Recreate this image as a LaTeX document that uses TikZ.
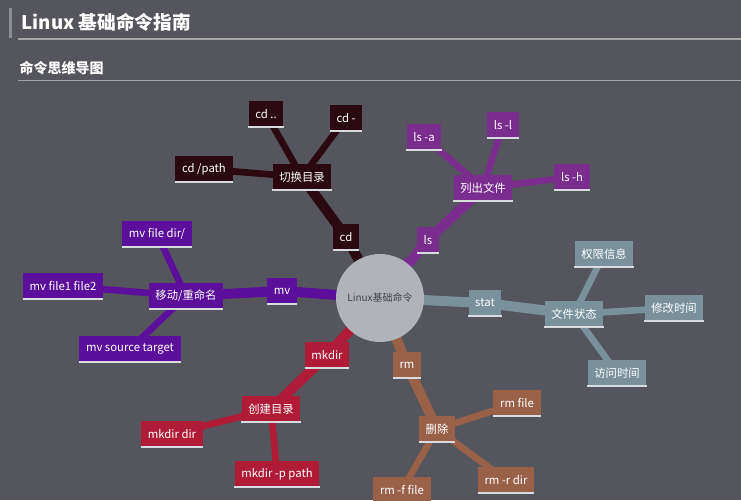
\documentclass[tikz,border=0pt]{standalone}
\usepackage{fontspec}
\setmainfont{Noto Sans CJK SC}
\usetikzlibrary{backgrounds}
\definecolor{bg}{HTML}{55555D}
\definecolor{ccd}{HTML}{2A0A10}
\definecolor{cls}{HTML}{7B2D8E}
\definecolor{cmv}{HTML}{5C0F9A}
\definecolor{cmk}{HTML}{B01C38}
\definecolor{crm}{HTML}{9A6149}
\definecolor{cst}{HTML}{7A909A}
\definecolor{ccen}{HTML}{B0B4BA}
\definecolor{uline}{HTML}{D8DCE0}
\begin{document}
\begin{tikzpicture}[x=0.75pt,y=-0.75pt,
 box/.style={fill=#1,text=white,font=\fontsize{8.5}{10}\selectfont,inner xsep=5pt,inner ysep=3.5pt,minimum height=19pt},
 e/.style={draw=#1,line width=7.5pt},
 ee/.style={draw=#1,line width=5pt},
 ul/.style={draw=uline,line width=1.8pt}]
\useasboundingbox (0,0) rectangle (741,500);
\fill[ccen!60!bg] (9,8) rectangle (12,38);
\node[anchor=west,text=white,font=\bfseries\fontsize{14}{16}\selectfont] (title) at (17,22) {Linux 基础命令指南};
\draw[gray!70,line width=0.8pt] (18,39) -- (741,39);
\node[anchor=west,text=white,font=\bfseries\fontsize{10.5}{12}\selectfont] (sub) at (15,68) {命令思维导图};
\draw[gray!70,line width=0.6pt] (18,80) -- (741,80);

\node[circle,fill=ccen,minimum size=66pt,inner sep=0pt,text=bg!80!black,font=\fontsize{7.5}{9}\selectfont] (c) at (380,298) {Linux基础命令};

\node[box=ccd] (cd) at (346,237) {cd};
\node[box=ccd] (qh) at (302,177) {切换目录};
\node[box=ccd] (cd1) at (266,114) {cd ..};
\node[box=ccd] (cd2) at (346,118) {cd -};
\node[box=ccd] (cd3) at (204,169) {cd /path};

\node[box=cls] (ls) at (428,240) {ls};
\node[box=cls] (lc) at (483,188) {列出文件};
\node[box=cls] (ls1) at (424,137) {ls -a};
\node[box=cls] (ls2) at (503,125) {ls -l};
\node[box=cls] (ls3) at (572,177) {ls -h};

\node[box=cmv] (mv) at (282,291) {mv};
\node[box=cmv] (yd) at (186,296) {移动/重命名};
\node[box=cmv] (mv1) at (157,234) {mv file dir/};
\node[box=cmv] (mv2) at (63,286) {mv file1 file2};
\node[box=cmv] (mv3) at (130,349) {mv source target};

\node[box=cmk] (mk) at (327,355) {mkdir};
\node[box=cmk] (cj) at (271,409) {创建目录};
\node[box=cmk] (mk1) at (172,434) {mkdir dir};
\node[box=cmk] (mk2) at (277,474) {mkdir -p path};

\node[box=crm] (rm) at (407,365) {rm};
\node[box=crm] (sc) at (437,429) {删除};
\node[box=crm] (rm1) at (517,403) {rm file};
\node[box=crm] (rm2) at (506,480) {rm -r dir};
\node[box=crm] (rm3) at (402,490) {rm -f file};

\node[box=cst] (st) at (485,303) {stat};
\node[box=cst] (wj) at (574,314) {文件状态};
\node[box=cst] (st1) at (604,254) {权限信息};
\node[box=cst] (st2) at (674,308) {修改时间};
\node[box=cst] (st3) at (617,373) {访问时间};

\foreach \n in {cd,qh,cd1,cd2,cd3,ls,lc,ls1,ls2,ls3,mv,yd,mv1,mv2,mv3,mk,cj,mk1,mk2,rm,sc,rm1,rm2,rm3,st,wj,st1,st2,st3}
  \draw[ul] (\n.south west) -- (\n.south east);

\begin{scope}[on background layer]
\fill[bg] (0,0) rectangle (741,500);
\path[e=ccd] (c.center) -- (cd.center) -- (qh.center);
\path[ee=ccd] (qh.center) -- (cd1.center) (qh.center) -- (cd2.center) (qh.center) -- (cd3.center);
\path[e=cls] (c.center) -- (ls.center) -- (lc.center);
\path[ee=cls] (lc.center) -- (ls1.center) (lc.center) -- (ls2.center) (lc.center) -- (ls3.center);
\path[e=cmv] (c.center) -- (mv.center) -- (yd.center);
\path[ee=cmv] (yd.center) -- (mv1.center) (yd.center) -- (mv2.center) (yd.center) -- (mv3.center);
\path[e=cmk] (c.center) -- (mk.center) -- (cj.center);
\path[ee=cmk] (cj.center) -- (mk1.center) (cj.center) -- (mk2.center);
\path[e=crm] (c.center) -- (rm.center) -- (sc.center);
\path[ee=crm] (sc.center) -- (rm1.center) (sc.center) -- (rm2.center) (sc.center) -- (rm3.center);
\path[e=cst] (c.center) -- (st.center) -- (wj.center);
\path[ee=cst] (wj.center) -- (st1.center) (wj.center) -- (st2.center) (wj.center) -- (st3.center);
\end{scope}
\end{tikzpicture}
\end{document}
